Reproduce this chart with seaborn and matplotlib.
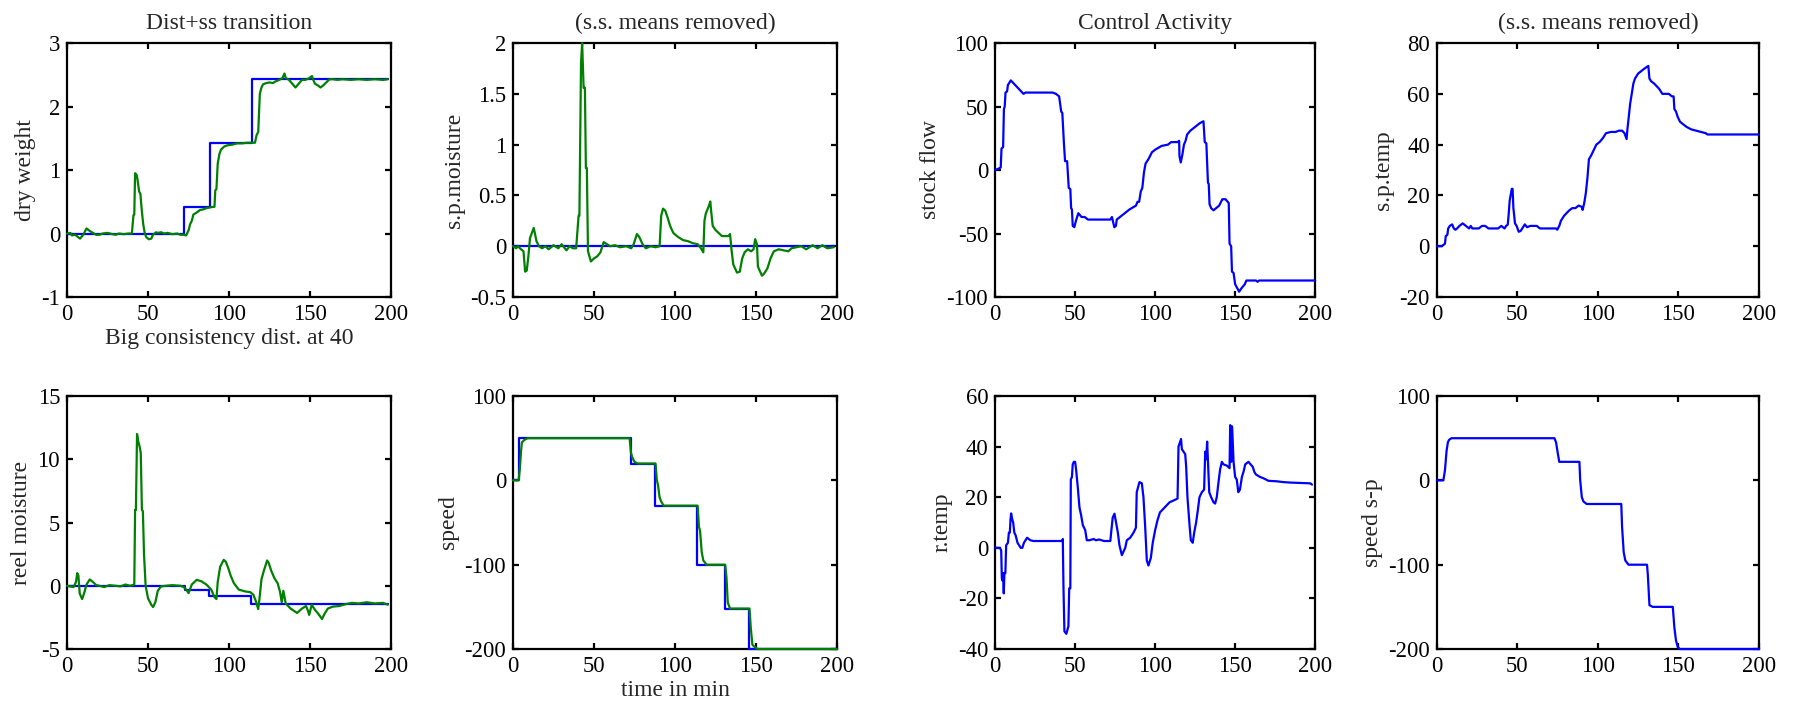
import matplotlib
matplotlib.use("Agg")
import matplotlib.pyplot as plt
import seaborn as sns
from matplotlib.ticker import FuncFormatter, FixedLocator

# ---------------- data ----------------
# Panel 1: dry weight
dw_sp_t = [0, 72, 88, 114, 198]
dw_sp_v = [0, 0.42, 1.43, 2.44, 2.44]
dw_t = [0, 2, 3, 5, 7, 8, 10, 12, 14, 16, 18, 20, 22, 25, 28, 30, 32, 35, 38, 40, 41, 41.5, 42, 43, 43.5, 44.5, 45.3, 46, 47, 48, 49, 50.5, 52, 53, 55, 56, 58, 60, 62, 65, 68, 70, 72, 73.5, 75, 76, 77, 78, 80, 82, 84, 86, 88, 90, 91, 91.5, 92.2, 93, 94, 95, 97, 99, 102, 105, 108, 111, 114, 116, 117, 118, 118.5, 119, 120, 121, 123, 125, 127, 129, 131, 133, 134.2, 135, 137, 139, 141, 143, 145, 147, 149, 151.2, 152, 153, 155, 156.4, 158, 160, 162, 164, 167, 170, 175, 180, 185, 190, 195, 198]
dw_v = [0, 0.01, -0.03, -0.02, -0.06, -0.08, -0.02, 0.08, 0.04, 0.01, -0.02, -0.02, 0.0, 0.01, -0.01, -0.02, 0.0, -0.01, 0.0, 0.0, 0.29, 0.3, 0.95, 0.92, 0.85, 0.66, 0.62, 0.4, 0.15, 0.0, -0.06, -0.09, -0.08, -0.02, 0.02, 0.01, 0.02, 0.0, 0.01, -0.01, 0.0, -0.02, -0.02, -0.03, 0.05, 0.15, 0.2, 0.3, 0.33, 0.37, 0.38, 0.4, 0.41, 0.42, 0.42, 0.68, 0.7, 1.1, 1.25, 1.32, 1.37, 1.39, 1.4, 1.42, 1.42, 1.43, 1.43, 1.43, 1.55, 1.6, 1.9, 2.2, 2.3, 2.35, 2.37, 2.38, 2.37, 2.4, 2.42, 2.45, 2.52, 2.45, 2.42, 2.36, 2.3, 2.36, 2.42, 2.42, 2.44, 2.48, 2.42, 2.36, 2.33, 2.3, 2.33, 2.38, 2.43, 2.43, 2.42, 2.43, 2.42, 2.43, 2.42, 2.43, 2.42, 2.43]

# Panel 2: s.p. moisture
spm_sp_t = [0, 198]
spm_sp_v = [0.0, 0.0]
spm_t = [0, 2, 3, 5, 6.5, 7.5, 8.5, 9.5, 10.5, 11.2, 12.8, 13.5, 14.5, 16, 18, 20, 22, 25, 28, 30, 33, 35, 37, 39, 40.5, 41, 42, 42.7, 43.6, 44.4, 45, 45.6, 46.3, 48.1, 50, 52, 54, 56, 58, 60, 63, 66, 70, 73, 74.5, 76.5, 78, 80, 82, 85, 88, 90.5, 91.5, 92.6, 94, 95.5, 97, 99, 102, 105, 108, 111, 114, 116, 117.5, 118.2, 119, 121, 121.8, 122.5, 123.3, 125, 127, 129, 131, 133, 134, 135, 136, 138.3, 140, 141.5, 143, 145, 147, 148.5, 149.5, 150.6, 151.2, 152, 153.7, 155, 157, 159, 161, 164, 167, 170, 172, 175, 178, 181, 185, 188, 191, 194, 198]
spm_v = [0, -0.02, 0.0, -0.03, -0.05, -0.25, -0.24, -0.1, 0.08, 0.11, 0.18, 0.13, 0.05, 0.0, -0.02, 0.0, -0.03, 0.01, -0.02, 0.02, -0.04, 0.0, -0.02, -0.02, 0.3, 0.3, 1.8, 2.0, 1.56, 1.56, 0.77, 0.77, -0.05, -0.15, -0.12, -0.1, -0.06, 0.04, 0.02, 0.0, 0.01, -0.01, 0.0, -0.02, 0.02, 0.12, 0.09, 0.02, -0.02, 0.0, -0.01, 0.0, 0.3, 0.37, 0.35, 0.28, 0.2, 0.13, 0.09, 0.06, 0.05, 0.03, 0.02, -0.02, -0.06, 0.25, 0.32, 0.4, 0.44, 0.32, 0.2, 0.16, 0.13, 0.1, 0.1, 0.1, 0.12, -0.05, -0.18, -0.26, -0.25, -0.12, -0.06, -0.03, -0.05, -0.03, 0.07, 0.02, -0.2, -0.23, -0.29, -0.27, -0.22, -0.12, -0.05, -0.03, -0.04, -0.05, -0.02, -0.01, 0.0, -0.03, 0.01, -0.02, 0.01, -0.02, -0.01]

# Panel 3: reel moisture
rm_sp_t = [0, 72.6, 87.7, 113.6, 198]
rm_sp_v = [0, -0.32, -0.79, -1.42, -1.42]
rm_t = [0, 2, 4, 5.5, 6.3, 7, 7.8, 9.3, 10.5, 12, 14, 16, 18, 20, 23, 26, 30, 33, 36, 39, 41.5, 42, 42.5, 43.2, 43.8, 44.8, 45.5, 46.2, 46.8, 47.5, 48.5, 50, 52, 53.1, 54.5, 56, 58, 61, 65, 70, 72, 73.5, 75, 77, 80, 83, 86, 89, 91, 92.2, 93, 94.5, 96.7, 98, 99.5, 101, 103, 106, 110, 113, 115, 116.5, 118, 118.8, 120, 121.5, 123.5, 124.5, 126, 128, 130, 131.5, 132.5, 133.5, 135, 138, 142, 145, 147.5, 148.5, 149.5, 151, 153, 155, 157.4, 159, 161, 164, 168, 172, 176, 180, 185, 190, 195, 198]
rm_v = [0, -0.05, -0.1, 0.3, 1.0, 0.8, -0.6, -1.05, -0.6, 0.1, 0.5, 0.3, 0.05, 0.0, -0.1, 0.05, 0.0, -0.05, 0.1, 0.0, 0.1, 6.0, 6.0, 12.0, 11.5, 11.0, 10.5, 6.0, 5.9, 2.5, 0.0, -1.0, -1.5, -1.68, -1.3, -0.4, -0.05, 0.0, 0.05, 0.0, -0.1, -0.3, -0.58, 0.1, 0.47, 0.35, 0.1, -0.3, -0.9, -1.05, 0.3, 1.5, 2.05, 1.9, 1.4, 0.8, 0.2, -0.3, -0.45, -0.5, -0.7, -1.2, -1.84, -1.0, 0.5, 1.2, 2.0, 1.8, 1.2, 0.6, 0.2, -0.5, -1.3, -0.4, -1.4, -1.8, -2.15, -1.8, -1.6, -1.9, -2.3, -1.5, -1.9, -2.2, -2.63, -2.2, -1.8, -1.65, -1.6, -1.45, -1.35, -1.4, -1.3, -1.4, -1.35, -1.5]

# Panel 4: speed
sp_sp_t = [0, 3.7, 72.8, 87.9, 113.6, 131.1, 146.0, 200]
sp_sp_v = [0, 50, 19, -30, -100, -152, -200, -200]
sp_t = [0, 3.5, 4.2, 5, 5.5, 7, 9, 72, 72.8, 73.5, 75, 77, 88, 88.8, 89.5, 90.5, 91.5, 93, 114, 114.8, 115.5, 116.5, 117.5, 119.5, 131, 131.8, 132.6, 134, 146, 146.8, 147.8, 149.5, 151, 200]
sp_v = [0, 0, 13, 35, 45, 48, 50, 50, 33, 28, 22, 20, 20, 0, -5, -20, -25, -30, -30, -55, -60, -85, -95, -100, -100, -115, -145, -152, -152, -175, -195, -198, -200, -200]

# Panel 5: stock flow
sf_t = [0, 2, 3.5, 4, 5, 5.5, 6, 6.5, 7.5, 8, 9.8, 14, 17.7, 19, 25, 30, 36, 38, 40, 41.3, 42, 43, 43.7, 45, 46, 47, 47.5, 48, 48.5, 49.5, 50.5, 51, 52, 54, 56, 58, 64, 72, 73, 74.5, 75.5, 76, 80, 84, 88, 89, 90, 91, 92, 93, 94, 96, 98, 100, 104, 108, 110, 114, 115, 115.2, 116, 117, 118, 119, 120, 122, 124, 126, 128, 130.2, 131, 132, 133, 133.5, 134, 135, 136.5, 140, 142, 144, 146, 146.5, 147.5, 148, 149, 150, 152.5, 154, 156, 157, 163, 164, 165, 200]
sf_v = [0, 1, 2, 17, 18, 48, 50, 61, 62, 67, 70.6, 65, 60, 61, 61, 61, 61, 60, 58, 46, 45, 21, 7, 7, -14, -15, -30, -31, -44, -45, -40, -38, -34, -37, -37, -39, -39, -39, -37, -45, -44, -39, -35, -31, -28, -25, -25, -17, -14, -2, 5, 9, 14, 16, 19, 20, 22, 22, 23, 11, 6, 12, 20, 23, 28, 31, 33, 35, 37, 38.4, 22, 21, -10, -11, -27, -30, -31.7, -28, -23, -23, -26, -58, -60, -80, -81, -90, -95.8, -93, -90, -87, -87, -88, -87, -87]

# Panel 6: s.p. temp
st_t = [0, 3, 5, 5.5, 6.5, 7, 8, 9.5, 10.5, 11.5, 12.5, 14, 16, 18, 20, 21, 22, 24, 26, 28, 30, 32, 34, 36, 38, 40, 42, 43, 44, 44.5, 45.2, 46.5, 47, 47.5, 48.5, 49.5, 50.8, 52, 54.6, 56, 58, 60, 62, 64, 70, 74, 74.7, 76, 77, 79, 82, 84, 86, 88, 90, 90.5, 91.5, 92.5, 93.5, 94.4, 96, 97.5, 99, 101, 103, 105, 108, 111, 113, 115, 116.5, 117.8, 118.3, 119, 120, 121, 122, 123, 125, 127, 129, 131.3, 132, 133, 135, 138, 140, 144, 146, 147, 147.5, 148.5, 149.5, 151, 153, 155, 158, 161, 164, 167, 168, 200]
st_v = [0, 0, 1, 4, 4.5, 7, 8, 8.6, 7, 6.5, 7, 8, 9, 8, 7, 8, 7, 7, 7, 8, 8, 7, 7, 7, 7, 8, 7, 8, 8.5, 12, 18, 22.6, 22.6, 15, 9, 8, 5.7, 6, 8.6, 7.5, 8, 8, 8, 7, 7, 7, 6.5, 8, 10, 12, 14, 15, 15, 16, 15.5, 14.3, 17, 21, 27, 34.2, 36, 38, 40, 41, 42.5, 44.5, 45, 45, 45.5, 45.5, 44.5, 42.2, 46, 50, 56, 60, 64, 66, 68, 69, 70, 71, 66, 65, 64, 62, 60, 60, 59, 59, 54, 53, 51, 49, 48, 47, 46, 45.5, 45, 44.5, 44, 44]

# Panel 7: r.temp
rt_t = [0, 3, 3.8, 4.2, 4.7, 5.0, 5.4, 5.8, 6.4, 6.9, 8.0, 8.6, 9.2, 9.6, 10.0, 10.8, 11.3, 12.0, 12.8, 14.0, 15.0, 16.0, 17.0, 18.0, 19.0, 20.0, 21.0, 22.0, 24.0, 30.0, 36.0, 42.0, 42.3, 42.7, 43.3, 44.5, 45.8, 46.3, 47.0, 47.3, 48.0, 48.5, 49.2, 50.0, 50.6, 51.7, 52.7, 53.7, 54.8, 56.3, 57.3, 59, 61.5, 63, 65, 68, 72, 72.5, 73.5, 74.6, 75.6, 76.7, 77.7, 79.2, 81.3, 82.3, 84.4, 86.5, 88.0, 88.5, 90.2, 91.7, 92.7, 93.8, 94.8, 95.8, 97.3, 98.5, 100.0, 101.5, 103.0, 106.0, 109.0, 112.5, 114.0, 114.6, 116.2, 116.7, 118.8, 119.4, 120.2, 121.5, 122.3, 123.5, 124.4, 125.6, 126.7, 127.7, 129.2, 130.6, 131.3, 131.9, 132.5, 133.1, 133.8, 135.0, 136.5, 137.5, 138.5, 139.6, 140.6, 141.7, 142.7, 144.8, 146.5, 146.9, 147.5, 148.1, 149.0, 150.0, 151.0, 152.0, 153.0, 154.2, 155.2, 156.3, 158.3, 161.0, 162.0, 163.0, 165.6, 167.7, 170.8, 176.0, 180.0, 184.4, 196.9, 198.0]
rt_v = [0, 0, -1, -12, -13, -10, -18, -10, -10, 1, 2, 6, 6, 11, 13.6, 11, 10, 6, 5, 2, 1, 0, 0, 2, 3, 4, 3.5, 3, 2.7, 2.7, 2.7, 2.7, 3.5, -15, -33, -34, -31, -16, -16, 27, 28, 33, 34, 34, 31, 23.7, 16, 13, 9, 7, 3, 3, 3.5, 3, 3.3, 2.7, 2.7, 6, 12, 13.5, 10, 6, 1, -2.9, 0, 3, 4, 6, 8, 22, 26, 25.5, 20, 8, -5, -7, -4, 2, 7, 11, 14, 16, 18, 19, 19.5, 40, 43, 39, 37, 32, 20, 9, 3, 2, 6, 10, 15, 20, 22, 23, 38, 35, 42, 33, 22, 20, 18, 17.5, 20, 26, 31, 34, 33, 32.5, 31.5, 48.5, 34, 48, 34, 28, 27, 22, 23, 28, 30, 33, 34, 32, 30, 29, 28, 27.5, 26.5, 26.3, 26, 25.8, 25.5, 25]

# Panel 8: speed s-p
ss_t = [0, 4, 5, 6, 6.8, 7.5, 9, 73, 74, 75, 76, 88.5, 89, 90, 91, 93, 114.5, 115, 116, 117, 119, 130.5, 131, 132, 134, 146.5, 147.5, 148.5, 149.5, 150.7, 200]
ss_v = [0, 0, 12, 35, 45, 48, 50, 50, 45, 33, 22, 22, 0, -20, -25, -28, -28, -55, -85, -95, -100, -100, -112, -148, -150, -150, -175, -190, -197, -200, -200]

# ---------------- style ----------------
sns.set_theme(style="ticks")
plt.rcParams["font.family"] = ["Liberation Serif", "DejaVu Serif"]
plt.rcParams["axes.unicode_minus"] = False
plt.rcParams["axes.linewidth"] = 1.6
plt.rcParams["axes.edgecolor"] = "black"

BLUE = "#0000ff"
GREEN = "#008000"
FS_TICK = 16.3
FS_LAB = 17

fig = plt.figure(figsize=(17.93, 7.14), dpi=100)

lefts = [0.0374, 0.2861, 0.5550, 0.8014]
widths = [0.1807, 0.1807, 0.1785, 0.1796]
bottoms = [0.584, 0.091]
heights = [0.3557, 0.3543]

def make_ax(row, col):
    return fig.add_axes([lefts[col], bottoms[row], widths[col], heights[row]])

fmt = FuncFormatter(lambda v, p: ("%g" % v))

def style(ax, ylim, yticks, ylabel):
    ax.set_xlim(0, 200)
    ax.set_ylim(*ylim)
    ax.xaxis.set_major_locator(FixedLocator([0, 50, 100, 150, 200]))
    ax.yaxis.set_major_locator(FixedLocator(yticks))
    ax.xaxis.set_major_formatter(fmt)
    ax.yaxis.set_major_formatter(fmt)
    ax.tick_params(direction="in", length=4, width=1.6, labelsize=FS_TICK,
                   top=True, right=True, colors="black", pad=5)
    for s in ax.spines.values():
        s.set_visible(True)
        s.set_linewidth(1.6)
        s.set_color("black")
    ax.set_ylabel(ylabel, fontsize=FS_LAB, labelpad=4)
    ax.set_xlabel("")
    ax.grid(False)
    ax.set_facecolor("white")

LW = 1.6

def line(ax, x, y, color, steps=False):
    kw = dict(drawstyle="steps-post") if steps else {}
    sns.lineplot(x=x, y=y, ax=ax, color=color, lw=LW, estimator=None,
                 sort=False, clip_on=False, zorder=3, **kw)

# Panel 1
ax = make_ax(0, 0)
line(ax, dw_sp_t, dw_sp_v, BLUE, steps=True)
line(ax, dw_t, dw_v, GREEN)
style(ax, (-1, 3), [-1, 0, 1, 2, 3], "dry weight")
ax.set_title("Dist+ss transition", fontsize=FS_LAB, pad=10)
ax.set_xlabel("Big consistency dist. at 40", fontsize=FS_LAB, labelpad=2)

# Panel 2
ax = make_ax(0, 1)
line(ax, spm_sp_t, spm_sp_v, BLUE)
line(ax, spm_t, spm_v, GREEN)
style(ax, (-0.5, 2), [-0.5, 0, 0.5, 1, 1.5, 2], "s.p.moisture")
ax.set_title("(s.s. means removed)", fontsize=FS_LAB, pad=10)

# Panel 3
ax = make_ax(1, 0)
line(ax, rm_sp_t, rm_sp_v, BLUE, steps=True)
line(ax, rm_t, rm_v, GREEN)
style(ax, (-5, 15), [-5, 0, 5, 10, 15], "reel moisture")

# Panel 4
ax = make_ax(1, 1)
line(ax, sp_sp_t, sp_sp_v, BLUE, steps=True)
line(ax, sp_t, sp_v, GREEN)
style(ax, (-200, 100), [-200, -100, 0, 100], "speed")
ax.set_xlabel("time in min", fontsize=FS_LAB, labelpad=2)

# Panel 5
ax = make_ax(0, 2)
line(ax, sf_t, sf_v, BLUE)
style(ax, (-100, 100), [-100, -50, 0, 50, 100], "stock flow")
ax.set_title("Control Activity", fontsize=FS_LAB, pad=10)

# Panel 6
ax = make_ax(0, 3)
line(ax, st_t, st_v, BLUE)
style(ax, (-20, 80), [-20, 0, 20, 40, 60, 80], "s.p.temp")
ax.set_title("(s.s. means removed)", fontsize=FS_LAB, pad=10)

# Panel 7
ax = make_ax(1, 2)
line(ax, rt_t, rt_v, BLUE)
style(ax, (-40, 60), [-40, -20, 0, 20, 40, 60], "r.temp")

# Panel 8
ax = make_ax(1, 3)
line(ax, ss_t, ss_v, BLUE)
style(ax, (-200, 100), [-200, -100, 0, 100], "speed s-p")

fig.savefig("out.png", dpi=100, facecolor="white")
